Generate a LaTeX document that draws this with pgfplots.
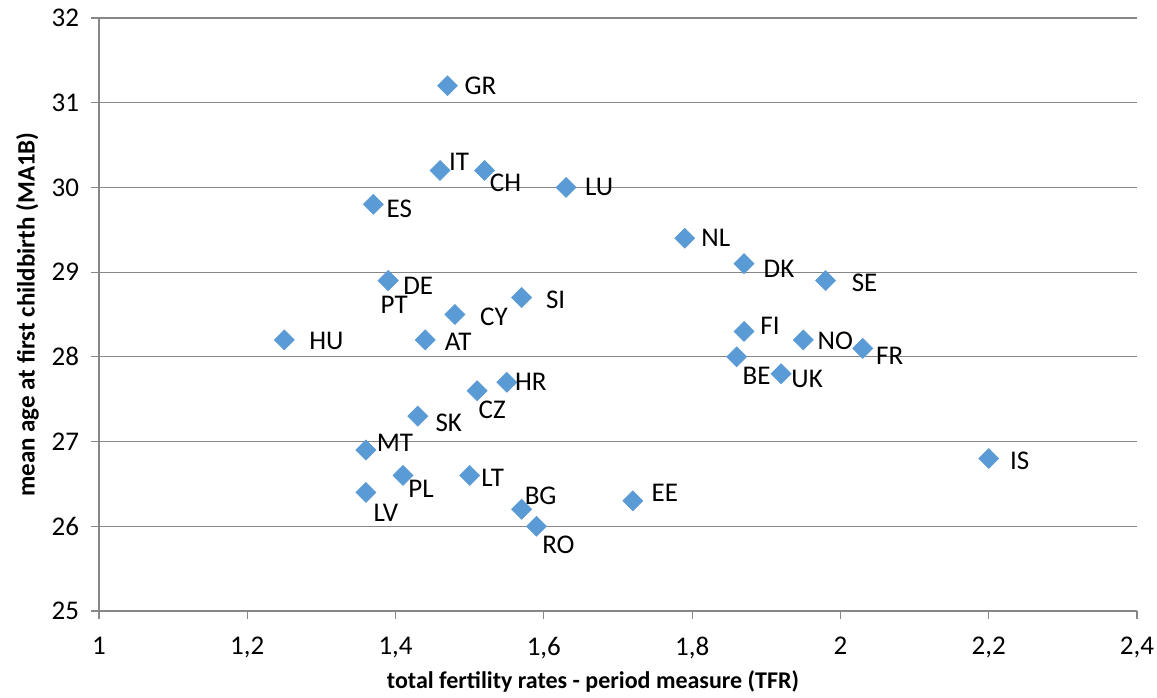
\documentclass[border=0pt]{standalone}
\usepackage{pgfplots}
\pgfplotsset{compat=1.18}
\usepackage{pgfplotstable}
\usepackage{fontspec}
\setmainfont{Carlito}

\definecolor{markblue}{HTML}{5B9BD5}
\definecolor{gridgrey}{HTML}{878787}

% country, TFR, mean age at first birth, label offsets (pt)
\pgfplotstableread{
lab x y dx dy
GR 1.47 31.2 16.5 0
IT 1.46 30.2 9.5 4.5
CH 1.52 30.2 10.5 -6
LU 1.63 30.0 16.5 0
ES 1.37 29.8 13 -2
NL 1.79 29.4 15.5 0
DK 1.87 29.1 17.5 -2.5
SE 1.98 28.9 19.5 -1
DE 1.39 28.9 15 -2.5
PT 1.39 28.9 3 -12
CY 1.48 28.5 19.5 -1
SI 1.57 28.7 17 -1
HU 1.25 28.2 21 -0.5
AT 1.44 28.2 16.5 -1
FI 1.87 28.3 13 3
NO 1.95 28.2 16 -0.5
FR 2.03 28.1 13.5 -3.5
BE 1.86 28.0 10 -9.5
UK 1.92 27.8 13 -2.5
HR 1.55 27.7 12 0
CZ 1.51 27.6 7.5 -9.5
SK 1.43 27.3 15.5 -3.5
MT 1.36 26.9 14.5 3.5
PL 1.41 26.6 9 -6.5
LT 1.50 26.6 11.5 -1
LV 1.36 26.4 10 -10
BG 1.57 26.2 9.5 6.5
RO 1.59 26.0 11 -9.5
EE 1.72 26.3 16 4
IS 2.20 26.8 15.5 -1
}\countries

\begin{document}
\begin{tikzpicture}
\begin{axis}[
  scale only axis,
  width=519pt, height=296.5pt,
  xmin=1, xmax=2.4, ymin=25, ymax=32,
  xtick={1,1.2,...,2.41}, ytick={25,...,32},
  axis x line*=bottom, axis y line*=left,
  axis line style={gridgrey, line width=0.6pt, -},
  ymajorgrids, major grid style={gridgrey, line width=0.6pt},
  tick style={gridgrey, line width=0.6pt},
  tick align=outside,
  major tick length=4pt,
  /pgf/number format/assume math mode=true,
  /pgf/number format/use comma,
  ticklabel style={font=\fontsize{13.5}{16}\selectfont, black},
  xticklabel style={yshift=-5.5pt},
  yticklabel style={xshift=-2.5pt},
  xlabel={\textbf{total fertility rates - period measure (TFR)}},
  ylabel={\textbf{mean age at first childbirth (MA1B)}},
  xlabel style={font=\fontsize{12}{15}\selectfont, yshift=1pt, xshift=-12.5pt},
  ylabel style={font=\fontsize{12.5}{15}\selectfont, yshift=-0.5pt},
  clip=false,
]
\addplot[
  only marks, mark=square*, mark size=3.5pt,
  mark options={rotate=45, fill=markblue, draw=markblue},
  nodes near coords,
  point meta=explicit symbolic,
  visualization depends on={\thisrow{dx} \as \dx},
  visualization depends on={\thisrow{dy} \as \dy},
  every node near coord/.style={anchor=center, xshift=\dx pt, yshift=\dy pt,
    font=\fontsize{13.5}{16}\selectfont, black, inner sep=0pt},
] table[x=x, y=y, meta=lab] {\countries};
\coordinate (sw) at (rel axis cs:0,0);
\coordinate (ne) at (rel axis cs:1,1);
\end{axis}
% fixed page frame around the plot area
\pgfresetboundingbox
\path ([shift={(-49.5pt,-43.5pt)}]sw) rectangle ([shift={(10pt,9pt)}]ne);
\end{tikzpicture}
\end{document}
